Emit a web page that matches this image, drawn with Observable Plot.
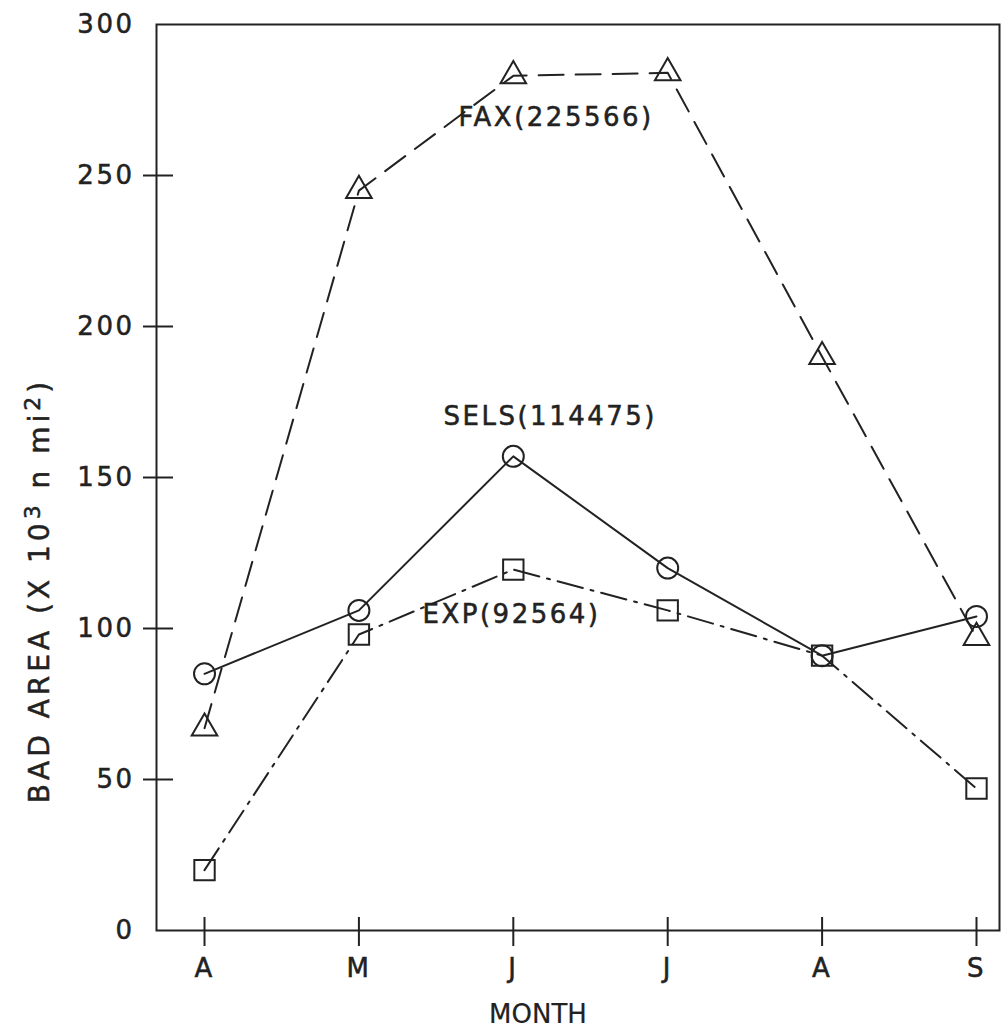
<!DOCTYPE html>
<html>
<head>
<meta charset="utf-8">
<script src="https://cdn.jsdelivr.net/npm/d3@7"></script>
<script src="https://cdn.jsdelivr.net/npm/@observablehq/plot@0.6"></script>
<style>
  html, body { margin: 0; padding: 0; background: #fff; }
  #chart svg { display: block; }
</style>
</head>
<body>
<div id="chart"></div>
<script>
const months = ["A", "M", "J", "J", "A", "S"];
const monthIndex = [0, 1, 2, 3, 4, 5];
const fax = [67, 245, 283, 284, 190, 97];
const sels = [85, 106, 157, 120, 91, 104];
const exp = [20, 98, 119.5, 106, 91, 47];
const yLabelTicks = [0, 50, 100, 150, 200, 250, 300];
const yMarkTicks = [50, 100, 150, 200, 250];
const seriesNames = ["FAX(225566)", "SELS(114475)", "EXP(92564)"];
const seriesLabelX = [1.645, 1.548, 1.412];
const seriesLabelY = [269, 170, 104.5];
const yTitle = "BAD AREA (X 10³ n mi²)";
const xTitle = "MONTH";

const rows = (vals) => monthIndex.map((i) => ({i, v: vals[i]}));
const faxRows = rows(fax), selsRows = rows(sels), expRows = rows(exp);
const labelRows = seriesNames.map((name, k) => ({name, x: seriesLabelX[k], y: seriesLabelY[k]}));

const ink = "#222";
const font = "DejaVu Sans";

const chart = Plot.plot({
  width: 1006,
  height: 1030,
  marginLeft: 156,
  marginRight: 7,
  marginTop: 24,
  marginBottom: 100,
  x: {domain: [-0.311, 5.149]},
  y: {domain: [0, 300]},
  style: {fontFamily: font, color: ink, background: "#fff"},
  marks: [
    Plot.frame({stroke: ink, strokeWidth: 2}),
    Plot.axisY({ticks: yLabelTicks, tickSize: 0, tickPadding: 22, fontSize: 26, label: null, stroke: ink}),
    Plot.axisY({ticks: yMarkTicks, tickSize: 30, dx: 17, tickFormat: () => "", label: null, stroke: ink, strokeWidth: 2}),
    Plot.axisX({ticks: monthIndex, tickSize: 29, dy: -13, tickPadding: 12, tickFormat: (d) => months[d], fontSize: 26, label: null, stroke: ink, strokeWidth: 2}),
    Plot.line(faxRows, {x: "i", y: "v", stroke: ink, strokeWidth: 2, strokeDasharray: "25,12"}),
    Plot.line(selsRows, {x: "i", y: "v", stroke: ink, strokeWidth: 2}),
    Plot.line(expRows, {x: "i", y: "v", stroke: ink, strokeWidth: 2, strokeDasharray: "26,8,3,8"}),
    Plot.dot(faxRows, {x: "i", y: "v", symbol: "triangle", r: 9.5, stroke: ink, strokeWidth: 2, fill: "none"}),
    Plot.dot(selsRows, {x: "i", y: "v", symbol: "circle", r: 10.5, stroke: ink, strokeWidth: 2, fill: "none"}),
    Plot.dot(expRows, {x: "i", y: "v", symbol: "square", r: 11.5, stroke: ink, strokeWidth: 2, fill: "none"}),
    Plot.text(labelRows, {x: "x", y: "y", text: "name", textAnchor: "start", fontSize: 26, fill: ink, className: "serieslabel"}),
    Plot.text([yTitle], {frameAnchor: "left", rotate: -90, dx: -116, dy: 113, textAnchor: "middle", lineAnchor: "middle", fontSize: 28, fill: ink, className: "ytitle"}),
    Plot.text([xTitle], {frameAnchor: "bottom", dx: -40, dy: 84, textAnchor: "middle", lineAnchor: "middle", fontSize: 26, fill: ink, className: "xtitle"})
  ]
});
const svg = d3.select(chart);
svg.selectAll("text").style("letter-spacing", "2.5px").style("stroke", ink).style("stroke-width", "0.5px");
svg.selectAll(".xtitle text").style("letter-spacing", "0px").style("stroke-width", "0.2px");
// render superscripts in the y title as raised tspans
svg.selectAll(".ytitle text").each(function () {
  const t = d3.select(this);
  const parts = [["BAD AREA (X 10", false], ["3", true], [" n mi", false], ["2", true], [")", false]];
  t.text(null).style("letter-spacing", "4px");
  for (const [s, sup] of parts) {
    const ts = t.append("tspan").text(s);
    if (sup) ts.attr("baseline-shift", "40%").attr("font-size", "22");
  }
});
document.getElementById("chart").appendChild(chart);
</script>
</body>
</html>
